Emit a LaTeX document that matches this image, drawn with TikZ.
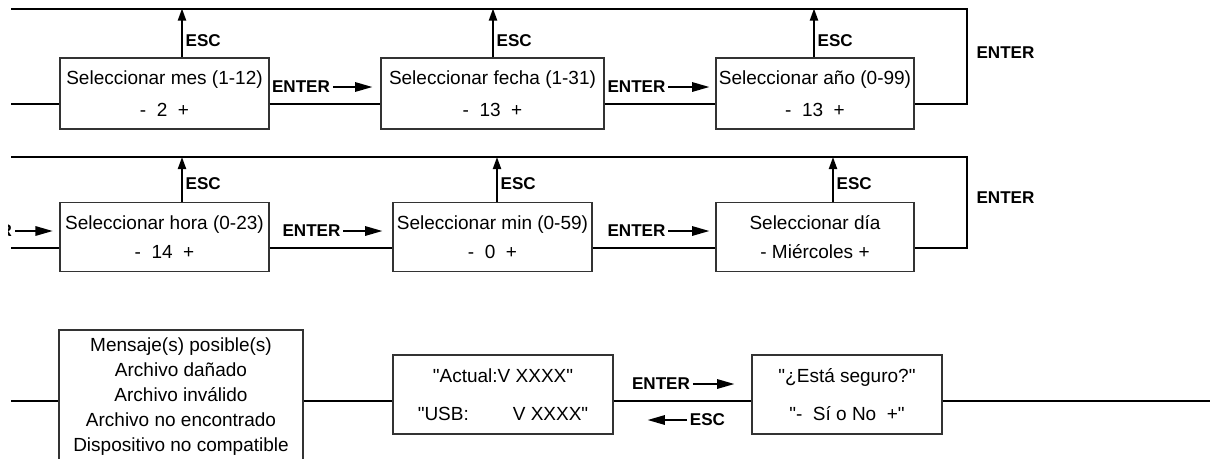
\documentclass[tikz,border=0pt]{standalone}
\usepackage{fontspec}
\setmainfont{Liberation Sans}
\usetikzlibrary{arrows.meta}

\newcommand{\dq}{\textquotedbl}

\tikzset{
  box/.style={draw=black!80, line width=0.8pt, align=center, inner sep=0pt},
  lines/.style={font={\fontsize{14.25pt}{#1}\selectfont}},
  keylabel/.style={font={\fontsize{12.8pt}{14pt}\selectfont\bfseries}, inner sep=2pt},
  wire/.style={line width=1.5pt},
  escarrow/.style={line width=1.5pt, -{Triangle[length=9pt,width=6pt]}},
  enterarrow/.style={line width=1.5pt, -{Triangle[length=13pt,width=7pt]}},
}

\begin{document}
\begin{tikzpicture}[x=0.75pt, y=-0.75pt]
\useasboundingbox (0,0) rectangle (1210,458);
\clip (0,0) rectangle (1210,458);

% fila 1: mes, fecha, anio
\node [box, lines=24pt, minimum width=156.75pt, minimum height=53.25pt] (mes) at (164.5,93.5) {Seleccionar mes (1-12)\\-~~2~~+};
\node [box, lines=24pt, minimum width=167.25pt, minimum height=53.25pt] (fecha) at (492.5,93.5) {Seleccionar fecha (1-31)\\-~~13~~+};
\node [box, lines=24pt, minimum width=148.5pt, minimum height=53.25pt] (anio) at (815,93.5) {Seleccionar año (0-99)\\-~~13~~+};

\coordinate (inA) at (11,103.5);
\coordinate (topAL) at (11,8.5);
\coordinate (topAR) at (967,8.5);
\coordinate (backA) at (967,103.5);
\draw[wire] (topAL) -- (topAR) -- (backA) -- (anio.east |- backA);
\draw[wire] (inA) -- (mes.west |- inA);
\draw[wire] (mes.east |- inA) -- (fecha.west |- inA);
\draw[wire] (fecha.east |- inA) -- (anio.west |- inA);

\coordinate (escA1) at (182,8.5);
\coordinate (escA2) at (493,8.5);
\coordinate (escA3) at (814,8.5);
\draw[escarrow] (mes.north -| escA1) -- (escA1) node [keylabel, right, pos=0.35] (escA1l) {ESC};
\draw[escarrow] (fecha.north -| escA2) -- (escA2) node [keylabel, right, pos=0.35] (escA2l) {ESC};
\draw[escarrow] (anio.north -| escA3) -- (escA3) node [keylabel, right, pos=0.35] (escA3l) {ESC};

\node [keylabel] (enterA1) at (301,87) {ENTER};
\node [keylabel] (enterA2) at (636.5,87) {ENTER};
\node [keylabel] (enterA3) at (1005.5,53) {ENTER};
\draw[enterarrow, shorten >=6pt] (enterA1.east) -- (enterA1.east -| fecha.west);
\draw[enterarrow, shorten >=4.5pt] (enterA2.east) -- (enterA2.east -| anio.west);

% fila 2: hora, min, dia
\node [box, lines=21.75pt, minimum width=156.75pt, minimum height=51.75pt] (hora) at (164.5,237) {Seleccionar hora (0-23)\\-~~14~~+};
\node [box, lines=21.75pt, minimum width=149.25pt, minimum height=51.75pt] (minuto) at (492.5,237) {Seleccionar min (0-59)\\-~~0~~+};
\node [box, lines=21.75pt, minimum width=148.5pt, minimum height=51.75pt] (dia) at (815,237) {Seleccionar día\\- Miércoles +};

\coordinate (inB) at (11,248);
\coordinate (topBL) at (11,157);
\coordinate (topBR) at (967,157);
\coordinate (backB) at (967,248);
\draw[wire] (topBL) -- (topBR) -- (backB) -- (dia.east |- backB);
\draw[wire] (inB) -- (hora.west |- inB);
\draw[wire] (hora.east |- inB) -- (minuto.west |- inB);
\draw[wire] (minuto.east |- inB) -- (dia.west |- inB);

\coordinate (escB1) at (182,157);
\coordinate (escB2) at (497,157);
\coordinate (escB3) at (833,157);
\draw[escarrow] (hora.north -| escB1) -- (escB1) node [keylabel, right, pos=0.4] (escB1l) {ESC};
\draw[escarrow] (minuto.north -| escB2) -- (escB2) node [keylabel, right, pos=0.4] (escB2l) {ESC};
\draw[escarrow] (dia.north -| escB3) -- (escB3) node [keylabel, right, pos=0.4] (escB3l) {ESC};

% resto de la etiqueta cortada a la izquierda
\begin{scope}
  \clip (8,215) rectangle (20,245);
  \node [keylabel, anchor=east] (enterB0) at (15,231) {ENTER};
\end{scope}
\node [keylabel] (enterB1) at (311.5,231) {ENTER};
\node [keylabel] (enterB2) at (636.5,231) {ENTER};
\node [keylabel] (enterB3) at (1005.5,198) {ENTER};
\draw[enterarrow, shorten >=5pt] (enterB0.east) -- (enterB0.east -| hora.west);
\draw[enterarrow, shorten >=7.5pt] (enterB1.east) -- (enterB1.east -| minuto.west);
\draw[enterarrow, shorten >=4.5pt] (enterB2.east) -- (enterB2.east -| dia.west);

% fila 3: mensajes, version, confirmar
\node [box, lines=18.75pt, minimum width=183pt, minimum height=99.75pt] (mensajes) at (181,396.5) {Mensaje(s) posible(s)\\Archivo dañado\\Archivo inválido\\Archivo no encontrado\\Dispositivo no compatible};
\node [box, lines=28.5pt, minimum width=165pt, minimum height=59.25pt] (version) at (503,394.5) {\dq Actual:V XXXX\dq\\\dq USB:\hspace{33pt}V XXXX\dq};
\node [box, lines=28.5pt, minimum width=142.5pt, minimum height=59.25pt] (confirmar) at (847,394.5) {\dq¿Está seguro?\dq\\\dq-~~Sí o No~~+\dq};

\coordinate (inC) at (11,401);
\coordinate (outC) at (1210,401);
\draw[wire] (inC) -- (mensajes.west |- inC);
\draw[wire] (mensajes.east |- inC) -- (version.west |- inC);
\draw[wire] (version.east |- inC) -- (confirmar.west |- inC);
\draw[wire] (confirmar.east |- inC) -- (outC);

\node [keylabel] (enterC) at (661,384) {ENTER};
\node [keylabel] (escC) at (707.5,420) {ESC};
\draw[enterarrow, shorten >=12.75pt] (enterC.east) -- (enterC.east -| confirmar.west);
\draw[enterarrow, shorten >=25.5pt] (escC.west) -- (escC.west -| version.east);
\end{tikzpicture}
\end{document}
